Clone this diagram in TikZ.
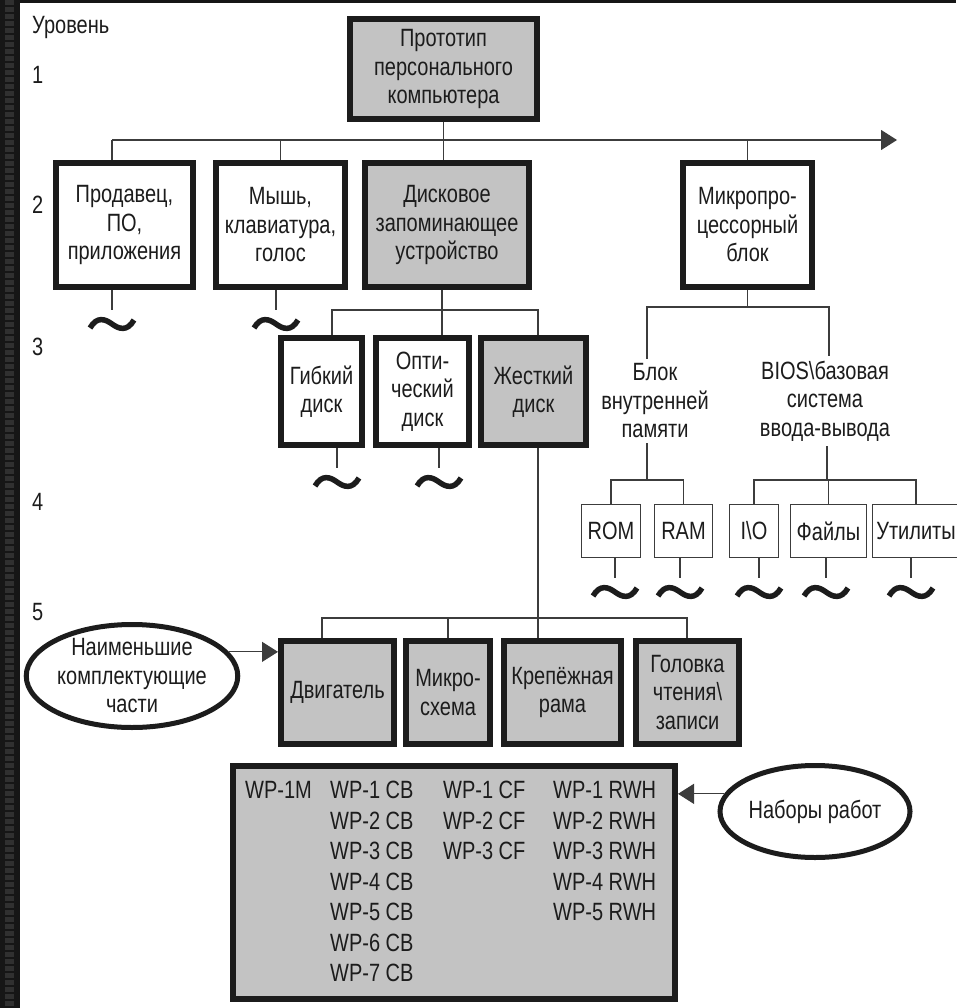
\documentclass[tikz,border=0pt]{standalone}
\usepackage{fontspec}
\setmainfont{Liberation Sans}[FakeStretch=0.8]
\usetikzlibrary{arrows.meta,shapes.geometric}
\definecolor{boxgrey}{RGB}{195,195,195}
\definecolor{ink}{RGB}{28,28,28}
\definecolor{edge}{RGB}{60,60,60}
\definecolor{strip}{RGB}{22,22,22}
\tikzset{
  every node/.style={font=\fontsize{25}{28.5}\selectfont, text=ink, align=center, inner sep=0pt},
  unit/.style={draw=ink, line width=6pt, fill=white},
  core/.style={unit, fill=boxgrey},
  leaf/.style={draw=edge, line width=1.2pt, fill=white},
  note/.style={ellipse, draw=ink, line width=5pt, fill=white, inner ysep=-4pt},
  link/.style={draw=edge, line width=1.2pt},
  pointer/.style={link, -{Triangle[length=16pt,width=20pt]}},
  snip/.pic={\draw[ink, line width=5.5pt] (-22,4) .. controls (-15,-8) and (-7,-5) .. (0,0) .. controls (7,5) and (15,8) .. (22,-4);}
}
\begin{document}
\begin{tikzpicture}[x=1pt,y=-1pt]
  \useasboundingbox (0,0) rectangle (956,1008);
  \fill[strip] (0,0) rectangle (20,1008);
  \fill[strip] (0,0) rectangle (956,3);
  \draw[edge!80!black, line width=9pt, dash pattern=on 5pt off 2pt] (9,0) -- (9,1008);

  \node[anchor=west] (lvl0) at (32,27) {Уровень};
  \foreach \i/\y in {1/75,2/205,3/347,4/502,5/612}
    \node[anchor=west] (lvl\i) at (32,\y) {\i};

  \node[core, minimum width=187pt, minimum height=100pt] (proto) at (443.5,69) {Прототип\\персонального\\компьютера};

  \node[unit, minimum width=137pt, minimum height=124pt] (prod) at (124.5,225) {Продавец,\\ПО,\\приложения};
  \node[unit, minimum width=129pt, minimum height=124pt] (mouse) at (280.5,225) {Мышь,\\клавиатура,\\голос};
  \node[core, minimum width=164pt, minimum height=124pt] (disk) at (447,225) {Дисковое\\запоминающее\\устройство};
  \node[unit, minimum width=129pt, minimum height=124pt] (cpu) at (747.5,225) {Микропро-\\цессорный\\блок};

  \node[unit, minimum width=81pt, minimum height=107pt] (floppy) at (321.5,391.5) {Гибкий\\диск};
  \node[unit, minimum width=93pt, minimum height=107pt] (optical) at (422.5,391.5) {Опти-\\ческий\\диск};
  \node[core, minimum width=105pt, minimum height=107pt] (hdd) at (533.5,391.5) {Жесткий\\диск};

  \node[inner sep=5pt] (mem) at (655,401) {Блок\\внутренней\\памяти};
  \node[inner sep=5pt] (bios) at (825,401) {BIOS\textbackslash{}базовая\\система\\ввода-вывода};

  \node[leaf, minimum width=59pt, minimum height=53pt] (rom) at (611,531) {ROM};
  \node[leaf, minimum width=58pt, minimum height=53pt] (ram) at (683.5,531) {RAM};
  \node[leaf, minimum width=49pt, minimum height=53pt] (io) at (754,531) {I\textbackslash{}O};
  \node[leaf, minimum width=76pt, minimum height=53pt] (files) at (828.5,531) {Файлы};
  \node[leaf, minimum width=87pt, minimum height=53pt] (utils) at (916,531) {Утилиты};

  \node[core, minimum width=113pt, minimum height=103pt] (motor) at (337.5,692.5) {Двигатель};
  \node[core, minimum width=84pt, minimum height=103pt] (chip) at (448,692.5) {Микро-\\схема};
  \node[core, minimum width=117pt, minimum height=103pt] (frame) at (562.5,692.5) {Крепёжная\\рама};
  \node[core, minimum width=103pt, minimum height=103pt] (head) at (687.5,692.5) {Головка\\чтения\textbackslash\\записи};

  \node[note, minimum width=210pt, minimum height=103pt] (parts) at (132,676) {Наименьшие\\комплектующие\\части};

  \node[core, minimum width=442pt, minimum height=233pt] (wp) at (454,882.5) {};
  \node[anchor=west] (wpm) at (245,790) {WP-1M};
  \foreach \k in {1,...,7}
    \node[anchor=west] (cb\k) at (330,{790+30.5*(\k-1)}) {WP-\k\ CB};
  \foreach \k in {1,2,3}
    \node[anchor=west] (cf\k) at (443,{790+30.5*(\k-1)}) {WP-\k\ CF};
  \foreach \k in {1,...,5}
    \node[anchor=west] (rwh\k) at (553,{790+30.5*(\k-1)}) {WP-\k\ RWH};

  \node[note, minimum width=190pt, minimum height=92pt] (jobs) at (815,811.5) {Наборы работ};

  \coordinate (b1w) at (112,140);
  \coordinate (b1e) at (897,140);
  \draw[link] (proto.south) -- (proto.south |- disk.north);
  \draw[pointer] (b1w) -- (b1e);
  \draw[link] (b1w) -- (b1w |- prod.north);
  \draw[link] (mouse.north |- b1w) -- (mouse.north);
  \draw[link] (cpu.north |- b1w) -- (cpu.north);

  \coordinate (b2w) at (332,310);
  \coordinate (b2m) at (442,310);
  \coordinate (b2e) at (538,310);
  \draw[link] (b2m |- disk.south) -- (b2m) -- (b2m |- optical.north);
  \draw[link] (b2w |- floppy.north) -- (b2w) -- (b2e) -- (b2e |- hdd.north);

  \coordinate (b3w) at (322,618);
  \coordinate (b3e) at (687,618);
  \draw[link] (b2e |- hdd.south) -- (b2e |- frame.north);
  \draw[link] (b3w |- motor.north) -- (b3w) -- (b3e) -- (b3e |- head.north);
  \draw[link] (chip.north |- b3w) -- (chip.north);

  \coordinate (b4w) at (647,307);
  \coordinate (b4e) at (829,307);
  \draw[link] (cpu.south) -- (cpu.south |- b4w);
  \draw[link] (b4w |- mem.north) -- (b4w) -- (b4e) -- (b4e |- bios.north);
  \coordinate (b5w) at (647,480);
  \coordinate (b5e) at (827,480);
  \draw[link] (b5w |- mem.south) -- (b5w);
  \draw[link] (rom.north) |- (b5w) -| (ram.north);
  \draw[link] (b5e |- bios.south) -- (b5e);
  \draw[link] (io.north) |- (b5e) -| (utils.north);
  \draw[link] (files.north) -- (files.north |- b5e);

  \foreach \n/\x/\y in {prod/112/310,mouse/276/310,floppy/337/468,optical/439/468,rom/615/578,ram/680/578,io/759/578,files/826/578,utils/911/578}{
    \coordinate (\n-cut) at (\x,\y);
    \draw[link] (\n.south -| \n-cut) -- (\n-cut);
    \pic at ([yshift=-14pt]\n-cut) {snip};
  }

  \draw[pointer] (parts.14) -- (parts.14 -| motor.west);
  \draw[pointer] (jobs.169) -- (jobs.169 -| wp.east);
\end{tikzpicture}
\end{document}
